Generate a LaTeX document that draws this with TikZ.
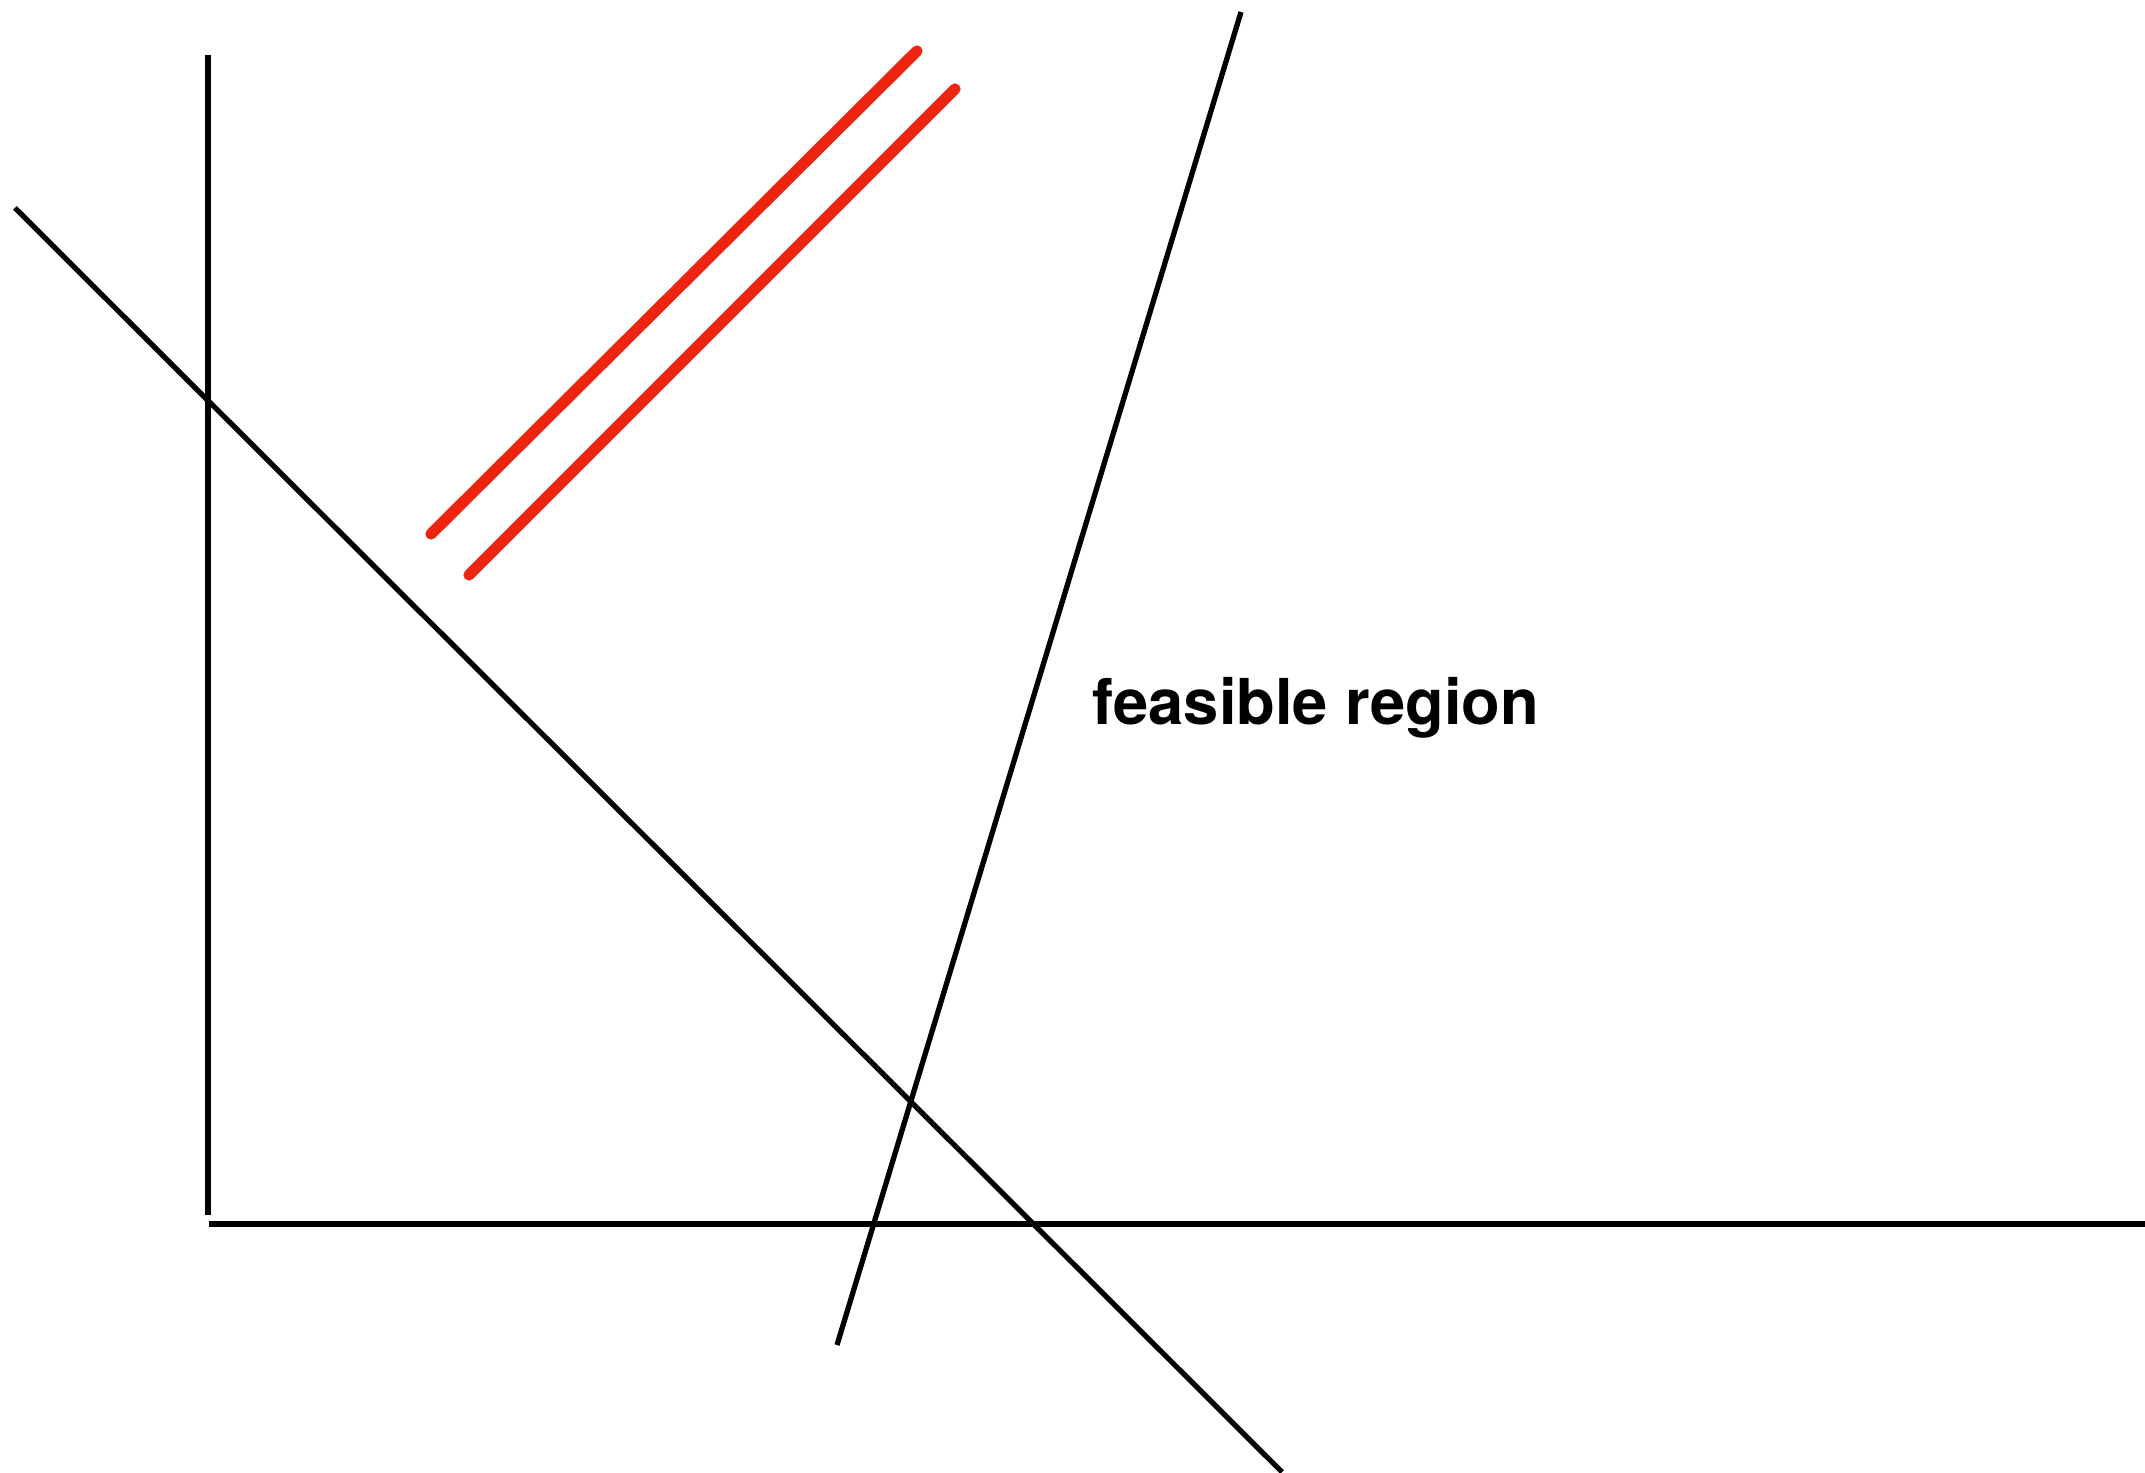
\documentclass[tikz,border=0pt]{standalone}
\usepackage{fontspec}
\setmainfont{TeX Gyre Heros}
\usepackage{xcolor}
\usepackage{tikz}
\definecolor{crayonred}{HTML}{EC2410}

\begin{document}
\begin{tikzpicture}[every node/.style={font=\fontsize{18}{20}\selectfont\bfseries}]
  \useasboundingbox (0,0) rectangle (21.45,14.72);
  % axes
  \draw[line width=1.5pt] (2.08,14.17) -- (2.08,2.57);
  \draw[line width=1.5pt] (2.09,2.48) -- (21.45,2.48);
  % constraints
  \draw[line width=1.5pt] (0.15,12.64) -- (12.82,0);
  \draw[line width=1.5pt] (12.41,14.60) -- (8.37,1.27);
  % objective level lines
  \draw[crayonred,line width=3.2pt,line cap=round] (4.31,9.38) -- (9.17,14.21);
  \draw[crayonred,line width=3.2pt,line cap=round] (4.69,8.97) -- (9.55,13.83);
  \node[anchor=base west,inner sep=0] (feas) at (10.92,7.47) {feasible region};
\end{tikzpicture}
\end{document}
